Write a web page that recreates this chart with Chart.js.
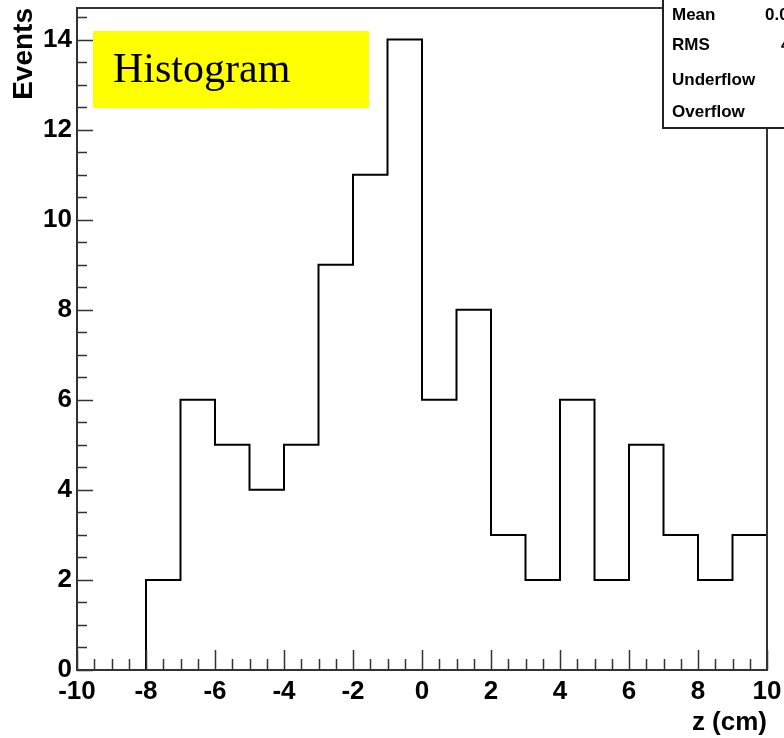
<!DOCTYPE html>
<html>
<head>
<meta charset="utf-8">
<script src="https://cdn.jsdelivr.net/npm/chart.js@4.4.1/dist/chart.umd.min.js"></script>
<style>
  body { margin: 0; background: #fff; }
  canvas { display: block; }
</style>
</head>
<body>
<canvas id="mycanvas" width="784" height="738"></canvas>
<script>
// histogram bins (lower edges, width 1) and entries
var binEdges = [-10, -9, -8, -7, -6, -5, -4, -3, -2, -1, 0, 1, 2, 3, 4, 5, 6, 7, 8, 9];
var binWidth = 1;
var counts = [0, 0, 2, 6, 5, 4, 5, 9, 11, 14, 6, 8, 3, 2, 6, 2, 5, 3, 2, 3];

var xTicks = [-10, -8, -6, -4, -2, 0, 2, 4, 6, 8, 10];
var yTicks = [0, 2, 4, 6, 8, 10, 12, 14];

var statNames = ['Mean', 'RMS', 'Underflow', 'Overflow'];
var statValues = ['0.05208', '4.311', '0', '0'];

// step line: each bin value is held from its lower edge to the next edge
var points = [];
for (var i in binEdges) {
	points.push({x: binEdges[i], y: counts[i]});
}
points.push({x: binEdges[binEdges.length - 1] + binWidth, y: counts[counts.length - 1]});

var frameColor = '#333';

var rootFrame = {
	id: 'rootFrame',
	afterDatasetsDraw: function(chart) {
		var c = chart.ctx, a = chart.chartArea;
		var xs = chart.scales.x, ys = chart.scales.y;
		c.save();
		c.strokeStyle = frameColor;
		c.lineWidth = 1.5;
		c.beginPath();
		// x ticks, inside the frame
		for (var v = -10; v <= 10.001; v += 0.5) {
			var px = Math.round(xs.getPixelForValue(v)) + 0.5;
			var len = (Math.abs(v % 2) < 0.001) ? 20 : 11;
			c.moveTo(px, a.bottom);
			c.lineTo(px, a.bottom - len);
		}
		// y ticks
		for (var w = 0; w <= 14.6; w += 0.5) {
			var py = Math.round(ys.getPixelForValue(w)) + 0.5;
			var l2 = (Math.abs(w % 2) < 0.001) ? 16 : 10;
			c.moveTo(a.left, py);
			c.lineTo(a.left + l2, py);
		}
		c.stroke();
		c.lineWidth = 2;
		c.strokeRect(a.left, a.top, a.right - a.left, a.bottom - a.top);
		c.restore();
	},
	afterDraw: function(chart) {
		var c = chart.ctx;
		c.save();
		// title box
		c.fillStyle = '#ffff00';
		c.fillRect(93, 31, 276, 77);
		c.fillStyle = '#000';
		c.font = '42px "Liberation Serif"';
		c.textBaseline = 'alphabetic';
		c.fillText('Histogram', 113, 82);
		// stats box
		c.fillStyle = '#fff';
		c.fillRect(663, -2, 130, 130);
		c.strokeStyle = '#222';
		c.lineWidth = 2;
		c.strokeRect(663, -2, 130, 130);
		c.fillStyle = '#000';
		c.font = 'bold 17px "Liberation Sans"';
		var rows = [20, 50, 85, 117];
		var valX = [765, 781, 812, 812];
		for (var k in statNames) {
			c.fillText(statNames[k], 672, rows[k]);
			c.fillText(statValues[k], valX[k], rows[k]);
		}
		c.restore();
	}
};

var ctx = document.getElementById('mycanvas');

var histo = new Chart(ctx, {
	type: 'line',
	data: {
		datasets: [{
			data: points,
			stepped: 'before',
			borderColor: '#000',
			borderWidth: 2,
			pointRadius: 0,
			fill: false
		}]
	},
	options: {
		responsive: false,
		animation: false,
		layout: {padding: {top: 8, right: 17}},
		plugins: {legend: {display: false}, tooltip: {enabled: false}},
		scales: {
			x: {
				type: 'linear',
				min: -10,
				max: 10,
				grid: {display: false, drawTicks: false},
				border: {display: false},
				afterBuildTicks: function(s) { s.ticks = xTicks.map(function(v) { return {value: v}; }); },
				afterFit: function(s) { s.height = 68; s.paddingLeft = 0; s.paddingRight = 0; },
				ticks: {
					autoSkip: false,
					maxRotation: 0,
					padding: 6,
					color: '#000',
					font: {family: 'Liberation Sans', size: 26, weight: 'bold'}
				},
				title: {
					display: true,
					text: 'z (cm)',
					align: 'end',
					color: '#000',
					padding: 0,
					font: {family: 'Liberation Sans', size: 26, weight: 'bold'}
				}
			},
			y: {
				min: 0,
				max: 14.7,
				grid: {display: false, drawTicks: false},
				border: {display: false},
				afterBuildTicks: function(s) { s.ticks = yTicks.map(function(v) { return {value: v}; }); },
				afterFit: function(s) { s.width = 77; s.paddingTop = 0; s.paddingBottom = 0; },
				ticks: {
					padding: 5,
					color: '#000',
					font: {family: 'Liberation Sans', size: 26, weight: 'bold'}
				},
				title: {
					display: true,
					text: 'Events',
					align: 'end',
					color: '#000',
					padding: {top: 7, bottom: 0},
					font: {family: 'Liberation Sans', size: 28, weight: 'bold'}
				}
			}
		}
	},
	plugins: [rootFrame]
});
</script>
</body>
</html>
